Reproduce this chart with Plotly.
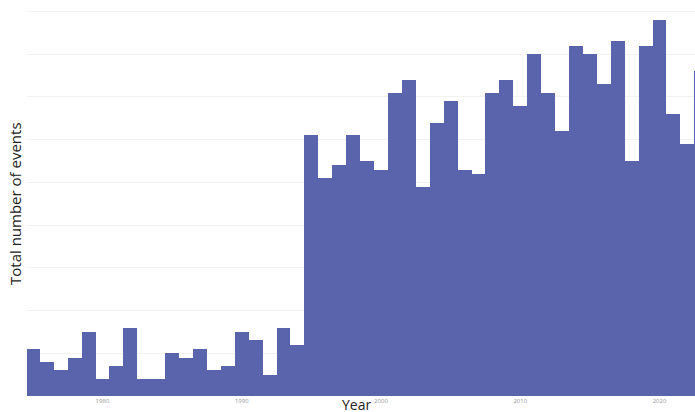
import plotly.graph_objects as go

years = list(range(1975, 2024))
events = [11, 8, 6, 9, 15, 4, 7, 16, 4, 4,
          10, 9, 11, 6, 7, 15, 13, 5, 16, 12,
          61, 51, 54, 61, 55, 53, 71, 74, 49, 64,
          69, 53, 52, 71, 74, 68, 80, 71, 62, 82,
          80, 73, 83, 55, 82, 88, 66, 59, 76]
tick_years = [1980, 1990, 2000, 2010, 2020]
tick_labels = ["1980", "1990", "2000", "2010", "2020"]

W, H = 695, 412
L, R, T, B = 27, 0, 6, 16

fig = go.Figure(go.Bar(
    x=years, y=events,
    marker=dict(color="#5964ad", line=dict(width=0)),
    hoverinfo="skip",
))

fig.update_layout(
    width=W, height=H,
    margin=dict(l=L, r=R, t=T, b=B, pad=0),
    paper_bgcolor="white", plot_bgcolor="white",
    bargap=0, showlegend=False,
    font=dict(family="Open Sans, sans-serif", color="#222"),
    xaxis=dict(range=[1974.58, 2022.55], tickvals=tick_years, ticktext=tick_labels,
               showgrid=False, zeroline=False, showline=False, ticks="",
               tickfont=dict(size=6, color="#999"), ticklen=0),
    yaxis=dict(range=[0, 91.3], dtick=10, showticklabels=False, ticks="",
               showgrid=True, gridcolor="#f2f2f2", gridwidth=1,
               zeroline=False, showline=False),
)

pw = W - L - R
ph = H - T - B
fig.add_annotation(text="Total number of events", xref="paper", yref="paper",
                   x=(15 - L) / pw, y=(H - B - 204) / ph, textangle=-90,
                   showarrow=False, xanchor="center", yanchor="middle",
                   font=dict(size=15, color="#222"))
fig.add_annotation(text="Year", xref="paper", yref="paper",
                   x=(356 - L) / pw, y=(H - B - 404) / ph,
                   showarrow=False, xanchor="center", yanchor="middle",
                   font=dict(size=14, color="#222"))

fig.write_html("out.html", config={"displayModeBar": False},
               post_script="document.body.style.margin='0';document.body.style.overflow='hidden';")
